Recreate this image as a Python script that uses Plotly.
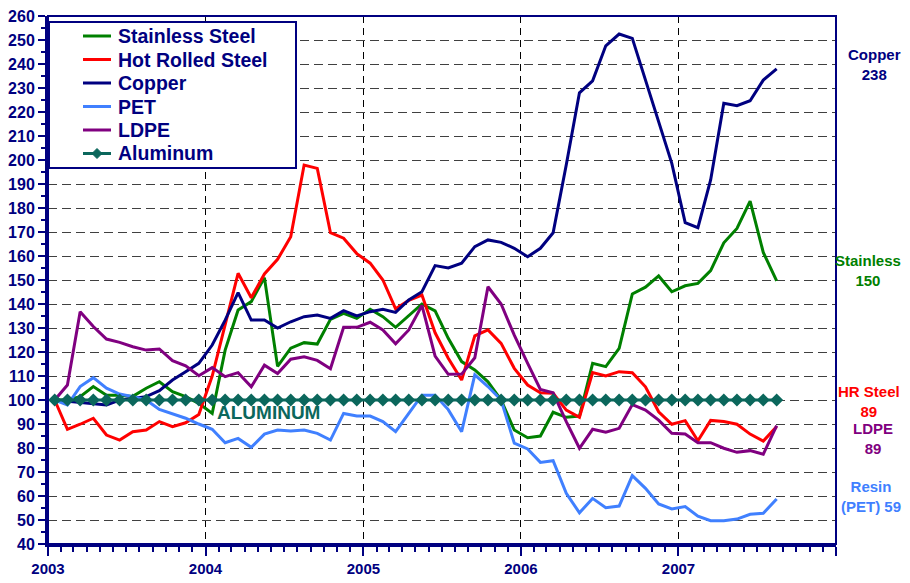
import plotly.graph_objects as go
import pandas as pd

# ---------------- data ----------------
months = pd.date_range("2003-01-01", periods=56, freq="MS")

stainless = [100, 100, 101.4, 105.6, 102, 102, 101.5, 104.9, 107.6, 103.5,
             101.4, 98.6, 94.4, 120.8, 137.5, 141, 151, 114, 121.6, 123.9,
             123.3, 133.6, 136.1, 134, 137.8, 134.7, 130.3, 135.1, 140, 137.1,
             125.7, 116, 112.5, 107.6, 100, 87.5, 84.3, 85, 94.9, 92.8,
             93.3, 115.3, 113.9, 121.5, 144.2, 147, 151.7, 145.1, 147.6, 148.6,
             153.9, 165.5, 171.5, 182.9, 161.5, 149.6]
hot_rolled = [100, 87.8, 89.9, 92.4, 85.4, 83.3, 86.8, 87.5, 91, 88.9,
              90.5, 94, 110, 131, 152.8, 142.6, 152.5, 158.6, 168, 197.9,
              196.5, 169.7, 167.4, 161, 157, 150, 138, 141.5, 143.75, 128,
              117.4, 108.3, 126.7, 129.2, 123.6, 113.2, 106.25, 103, 102.8, 95.8,
              92.8, 111.4, 110, 111.8, 111.4, 105.5, 95.1, 89.9, 91.4, 83,
              91.5, 91, 89.9, 85.8, 82.9, 88.9]
copper = [100, 99.5, 99, 98.6, 97.9, 100, 100.7, 101.4, 103.9, 108.3,
          111.8, 115.3, 122.9, 133.3, 144.7, 133.3, 133.3, 130, 132.6, 134.7,
          135.4, 134, 137.2, 135, 136.8, 137.8, 136.5, 141.7, 145.1, 156,
          155, 157, 163.9, 166.7, 165.7, 163.2, 159.7, 163.2, 169.7, 198,
          228, 233, 247.6, 252.5, 250.7, 233, 216, 198.6, 173.9, 171.8,
          191.7, 223.6, 222.6, 224.7, 233.3, 238]
pet = [100, 97.9, 105.6, 109.3, 104.9, 102.5, 101.4, 100, 96.1, 94.4,
       92.4, 90, 87.8, 82.2, 84, 80.3, 85.8, 87.5, 87.1, 87.5,
       86.1, 83.3, 94.4, 93.3, 93.3, 91, 86.8, 94.4, 102, 102,
       96, 86.8, 110.5, 105.6, 100, 82, 79.6, 74, 74.7, 61.1,
       53, 59, 55.1, 55.8, 68.5, 63.2, 56.7, 54.6, 55.6, 51.6,
       49.7, 49.7, 50.4, 52.4, 52.8, 58.75]
ldpe = [100, 106.25, 136.8, 130.6, 125.4, 124, 122.2, 120.8, 121.25, 116.4,
        114.2, 110.1, 113.5, 109.7, 111.4, 105.5, 114.5, 111, 117, 118,
        116.5, 113, 130.3, 130.3, 132.4, 129.2, 123.4, 129.2, 139.4, 118.3,
        110.7, 110.8, 117.6, 147.2, 140, 127, 115.3, 104.4, 103, 91,
        79.9, 87.8, 86.6, 88.2, 98.1, 95.8, 91.6, 86.1, 85.8, 82.2,
        82.2, 79.9, 78.2, 78.9, 77.4, 89.3]
aluminum = [100] * 56

series_names = ["Stainless Steel", "Hot Rolled Steel", "Copper", "PET", "LDPE", "Aluminum"]
year_ticks = ["2003-01-01", "2004-01-01", "2005-01-01", "2006-01-01", "2007-01-01", "2008-01-01"]
year_labels = ["2003", "2004", "2005", "2006", "2007", ""]
end_labels = ["Copper<br>238", "Stainless<br>150", "HR Steel<br>89", "LDPE<br>89", "Resin<br>(PET) 59"]

# ---------------- style ----------------
NAVY = "#000080"
GREEN = "#008000"
RED = "#FF0000"
BLUE = "#4080FF"
PURPLE = "#800080"
TEAL = "#0B675C"
FONT = "Liberation Sans, Arial, sans-serif"
colors = [GREEN, RED, NAVY, BLUE, PURPLE, TEAL]

# page offset (default body margin of the html page)
OFF = 8
W, H = 910 - OFF, 583 - OFF
# plot-area geometry in page pixels
L, R, T, B = 48, 836, 16, 544
def px(x):
    return (x - L) / (R - L)
def py(y):
    return (B - y) / (B - T)

fig = go.Figure()
all_series = [stainless, hot_rolled, copper, pet, ldpe]
for name, vals, col in zip(series_names[:5], all_series, colors[:5]):
    fig.add_trace(go.Scatter(x=months, y=vals, mode="lines", name=name,
                             xperiod="M1", xperiodalignment="middle",
                             line=dict(color=col, width=3), showlegend=False))
fig.add_trace(go.Scatter(x=months, y=aluminum, mode="lines+markers", name="Aluminum",
                         xperiod="M1", xperiodalignment="middle",
                         line=dict(color=TEAL, width=3),
                         marker=dict(symbol="diamond", size=10, color=TEAL),
                         showlegend=False))

fig.update_layout(
    width=W, height=H,
    margin=dict(l=L - OFF, r=W - (R - OFF), t=T - OFF, b=H - (B - OFF), autoexpand=False),
    plot_bgcolor="white", paper_bgcolor="white",
    showlegend=False,
    font=dict(family=FONT, color=NAVY),
)
fig.update_xaxes(
    automargin=False,
    range=["2003-01-01", "2008-01-01"],
    tickvals=year_ticks, ticktext=year_labels,
    tickfont=dict(family=FONT, size=15, color=NAVY, weight="bold"),
    showline=True, linecolor=NAVY, linewidth=3,
    ticks="outside", ticklen=9, tickwidth=2, tickcolor=NAVY,
    showgrid=True, gridcolor="#000000", gridwidth=1, griddash="7px,5px",
    minor=dict(dtick="M1", tick0="2003-01-01", ticks="outside", ticklen=5,
               tickwidth=2, tickcolor=NAVY, showgrid=False),
    zeroline=False, ticklabeloverflow="allow",
)
fig.update_yaxes(
    automargin=False,
    range=[40, 260], tick0=40, dtick=10,
    tickfont=dict(family=FONT, size=16, color=NAVY, weight="bold"),
    showline=True, linecolor=NAVY, linewidth=3,
    ticks="outside", ticklen=7, tickwidth=2, tickcolor=NAVY,
    showgrid=True, gridcolor="#404040", gridwidth=1.3, griddash="9px,5px",
    minor=dict(dtick=5, ticks="outside", ticklen=4, tickwidth=2, tickcolor=NAVY,
               showgrid=False),
    zeroline=False, ticklabeloverflow="allow",
)

shapes = []
# top/right frame
shapes.append(dict(type="rect", xref="paper", yref="paper", x0=0, x1=1, y0=0, y1=1,
                   line=dict(color=NAVY, width=2), layer="above"))
# legend box
shapes.append(dict(type="rect", xref="paper", yref="paper",
                   x0=px(49), x1=px(296), y0=py(168), y1=py(22),
                   line=dict(color=NAVY, width=2), fillcolor="white", layer="above"))
leg_y = [36, 59.5, 83, 106.5, 130, 153.5]
annotations = []
for name, col, yy in zip(series_names, colors, leg_y):
    shapes.append(dict(type="line", xref="paper", yref="paper",
                       x0=px(83), x1=px(111), y0=py(yy), y1=py(yy),
                       line=dict(color=col, width=3), layer="above"))
    annotations.append(dict(xref="paper", yref="paper", x=px(116), y=py(yy),
                            xanchor="left", yanchor="middle", text=name, showarrow=False,
                            font=dict(family=FONT, size=19.5, color=NAVY, weight="bold")))
# diamond on aluminum legend sample
cx, cy, d = 97, leg_y[-1], 5
shapes.append(dict(type="path", xref="paper", yref="paper",
                   path=f"M {px(cx-d)} {py(cy)} L {px(cx)} {py(cy-d)} L {px(cx+d)} {py(cy)} L {px(cx)} {py(cy+d)} Z",
                   fillcolor=TEAL, line=dict(color=TEAL, width=1), layer="above"))

# right-side labels
end_pos = [(875, 65), (868, 270), (869, 401), (873, 438), (871, 496)]
end_cols = [NAVY, GREEN, RED, PURPLE, BLUE]
for txt, (xx, yy), col in zip(end_labels, end_pos, end_cols):
    annotations.append(dict(xref="paper", yref="paper", x=px(xx), y=py(yy),
                            xanchor="center", yanchor="middle", text=txt, showarrow=False,
                            align="center",
                            font=dict(family=FONT, size=15, color=col, weight="bold")))
# ALUMINUM label
annotations.append(dict(xref="paper", yref="paper", x=px(268), y=py(412.5),
                        xanchor="center", yanchor="middle", text="ALUMINUM", showarrow=False,
                        font=dict(family=FONT, size=19, color=TEAL, weight="bold")))

fig.update_layout(shapes=shapes, annotations=annotations)
fig.write_html("out.html")
